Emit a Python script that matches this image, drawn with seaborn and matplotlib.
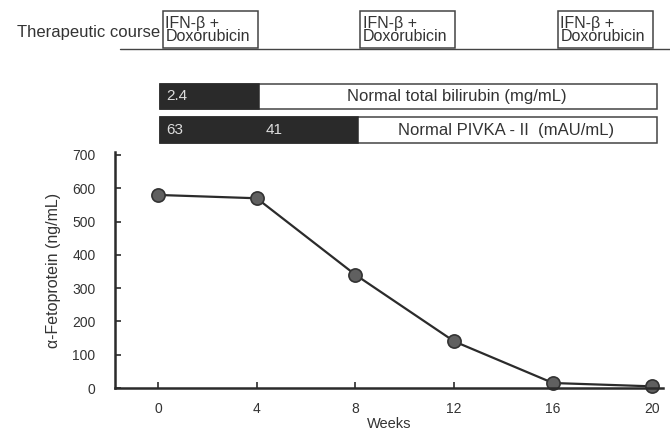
import matplotlib
matplotlib.use("Agg")
import matplotlib.pyplot as plt
import matplotlib.transforms as mtransforms
from matplotlib.patches import Rectangle
import seaborn as sns
import pandas as pd

# ---- data ----
weeks = [0, 4, 8, 12, 16, 20]
afp = [580, 570, 340, 140, 15, 5]
x_ticks = [0, 4, 8, 12, 16, 20]
y_ticks = [0, 100, 200, 300, 400, 500, 600, 700]

course_label = "Therapeutic course"
course_starts = [0, 8, 16]
course_ends = [4, 12, 20]
course_text = "IFN-\u03b2 +\nDoxorubicin"

bili_label = "Normal total bilirubin (mg/mL)"
bili_abnormal_end = 4
bili_values = ["2.4"]
bili_value_weeks = [0]

pivka_label = "Normal PIVKA - II  (mAU/mL)"
pivka_abnormal_end = 8
pivka_values = ["63", "41"]
pivka_value_weeks = [0, 4]

bar_start = 0
bar_end = 20

df = pd.DataFrame({"Weeks": weeks, "AFP": afp})

sns.set_style("ticks")
plt.rcParams["font.family"] = ["Liberation Sans", "DejaVu Sans"]

W, H = 670, 436
fig = plt.figure(figsize=(W / 100, H / 100), dpi=100)
fig.patch.set_facecolor("white")

ax_left, ax_right = 115 / W, 663 / W
ax_bottom, ax_top = 1 - 388 / H, 1 - 152 / H
ax = fig.add_axes([ax_left, ax_bottom, ax_right - ax_left, ax_top - ax_bottom])

ink = "#2b2b2b"
txt = "#333333"
sns.lineplot(data=df, x="Weeks", y="AFP", ax=ax, color=ink, linewidth=1.6,
             marker="o", markersize=9.5, markerfacecolor="#606060",
             markeredgecolor="#333333", markeredgewidth=1.2, clip_on=False)

ppw = (651.7 - 158.0) / 20.0
ax.set_xlim((115 - 158) / ppw, (663 - 158) / ppw)
ax.set_ylim(0, (388 - 152) / ((388 - 155) / 700))
ax.set_xticks(x_ticks)
ax.set_yticks(y_ticks)
ax.tick_params(direction="in", length=4, width=1.2, colors=ink, labelsize=10,
               labelcolor=txt)
ax.tick_params(axis="x", pad=10)
ax.tick_params(axis="y", pad=14)
for s in ["top", "right"]:
    ax.spines[s].set_visible(False)
for s in ["left", "bottom"]:
    ax.spines[s].set_linewidth(1.8)
    ax.spines[s].set_color(ink)
ax.set_xlabel("Weeks", fontsize=10.5, color=txt, labelpad=1)
ax.set_ylabel("\u03b1-Fetoprotein (ng/mL)", fontsize=11.5, color=txt, labelpad=8)
ax.set_facecolor("white")

tr = mtransforms.blended_transform_factory(ax.transData, fig.transFigure)

def fy(px):
    return 1 - px / H

# therapeutic course
ax.plot([(120 - 158) / ppw, (670 - 158) / ppw], [fy(49.5), fy(49.5)], transform=tr,
        color="#444444", linewidth=1.0, clip_on=False)
ax.text(0.1, fy(33), course_label, transform=tr, ha="right", va="center",
        fontsize=12, color=txt)
for s, e in zip(course_starts, course_ends):
    ax.add_patch(Rectangle((s + 0.2, fy(48)), (e - s) - 0.15, fy(11) - fy(48),
                           transform=tr, facecolor="white", edgecolor="#444444",
                           linewidth=1.1, clip_on=False, zorder=3))
    ax.text(s + 0.3, fy(30), course_text, transform=tr, ha="left", va="center",
            fontsize=11.5, color=txt, linespacing=0.8, zorder=4)

# lab bars
def lab_bar(top_px, bot_px, abn_end, label, vals, vweeks):
    h = fy(top_px) - fy(bot_px)
    ax.add_patch(Rectangle((bar_start + 0.1, fy(bot_px)), bar_end - bar_start + 0.1, h,
                           transform=tr, facecolor="white", edgecolor="#444444",
                           linewidth=1.1, clip_on=False))
    ax.add_patch(Rectangle((bar_start + 0.1, fy(bot_px)), abn_end - bar_start, h,
                           transform=tr, facecolor="#2a2a2a", edgecolor="#2a2a2a",
                           linewidth=1.1, clip_on=False))
    ymid = (fy(top_px) + fy(bot_px)) / 2
    for v, w in zip(vals, vweeks):
        ax.text(w + 0.35, ymid, v, transform=tr, ha="left", va="center",
                fontsize=11, color="#dddddd")
    ax.text((abn_end + bar_end + 0.2) / 2, ymid, label, transform=tr, ha="center",
            va="center", fontsize=12, color=txt)

lab_bar(84, 109, bili_abnormal_end, bili_label, bili_values, bili_value_weeks)
lab_bar(117, 143, pivka_abnormal_end, pivka_label, pivka_values, pivka_value_weeks)

fig.savefig("out.png", dpi=100, facecolor="white")
